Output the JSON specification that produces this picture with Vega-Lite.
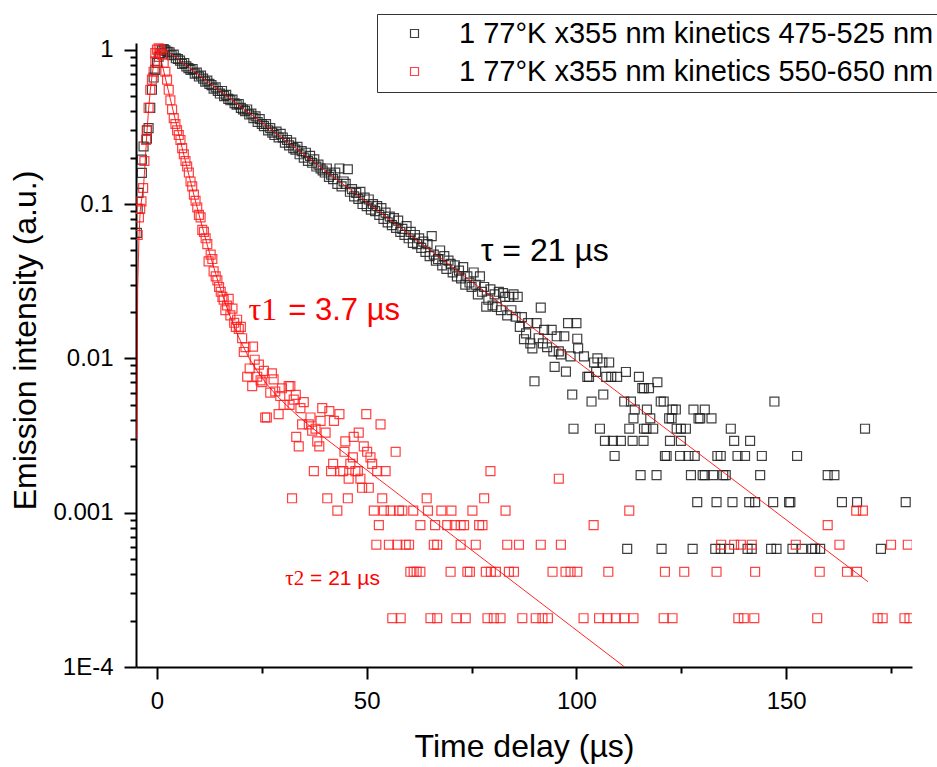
{
"$schema": "https://vega.github.io/schema/vega-lite/v6.json",
"width": 776, "height": 624,
"autosize": {"type": "none"},
"padding": {"left": 136, "top": 43, "right": 25, "bottom": 100},
"background": "white",
"config": {"view": {"stroke": null}, "font": "Liberation Sans", "axis": {"tickWidth": 2, "tickColor": "black"}},
"datasets": {
"pts": [
{"t":-4.8,"y":0.065,"s":"475-525"},{"t":-4.6,"y":0.093,"s":"475-525"},{"t":-4.4,"y":0.118,"s":"475-525"},{"t":-3.6,"y":0.159,"s":"475-525"},{"t":-3.6,"y":0.194,"s":"475-525"},{"t":-3.2,"y":0.236,"s":"475-525"},{"t":-2.4,"y":0.265,"s":"475-525"},{"t":-2.4,"y":0.3,"s":"475-525"},{"t":-2,"y":0.31,"s":"475-525"},{"t":-1.6,"y":0.42,"s":"475-525"},{"t":-1.2,"y":0.55,"s":"475-525"},{"t":-0.8,"y":0.66,"s":"475-525"},{"t":-0.4,"y":0.74,"s":"475-525"},{"t":0,"y":0.82,"s":"475-525"},{"t":0.4,"y":0.9,"s":"475-525"},{"t":0.8,"y":0.95,"s":"475-525"},{"t":1.2,"y":0.99,"s":"475-525"},{"t":1.6,"y":1.01,"s":"475-525"},
{"t":2,"y":0.99,"s":"475-525"},{"t":2.5,"y":0.97,"s":"475-525"},{"t":3,"y":0.96,"s":"475-525"},{"t":3.5,"y":0.92,"s":"475-525"},{"t":4,"y":0.93,"s":"475-525"},{"t":4.5,"y":0.88,"s":"475-525"},{"t":5,"y":0.87,"s":"475-525"},{"t":5.5,"y":0.85,"s":"475-525"},{"t":6,"y":0.81,"s":"475-525"},{"t":6.5,"y":0.82,"s":"475-525"},{"t":7,"y":0.78,"s":"475-525"},{"t":7.5,"y":0.76,"s":"475-525"},{"t":8,"y":0.74,"s":"475-525"},{"t":8.5,"y":0.75,"s":"475-525"},{"t":9,"y":0.7,"s":"475-525"},{"t":9.5,"y":0.71,"s":"475-525"},{"t":10,"y":0.67,"s":"475-525"},{"t":10.5,"y":0.68,"s":"475-525"},{"t":11,"y":0.65,"s":"475-525"},{"t":11.5,"y":0.62,"s":"475-525"},{"t":12,"y":0.63,"s":"475-525"},{"t":12.5,"y":0.6,"s":"475-525"},{"t":13,"y":0.59,"s":"475-525"},{"t":13.5,"y":0.56,"s":"475-525"},{"t":14,"y":0.57,"s":"475-525"},{"t":14.5,"y":0.54,"s":"475-525"},{"t":15,"y":0.52,"s":"475-525"},{"t":15.5,"y":0.54,"s":"475-525"},{"t":16,"y":0.5,"s":"475-525"},{"t":16.5,"y":0.51,"s":"475-525"},{"t":17,"y":0.48,"s":"475-525"},{"t":17.5,"y":0.47,"s":"475-525"},{"t":18,"y":0.475,"s":"475-525"},{"t":18.5,"y":0.45,"s":"475-525"},{"t":19,"y":0.44,"s":"475-525"},{"t":19.5,"y":0.445,"s":"475-525"},{"t":20,"y":0.42,"s":"475-525"},{"t":20.5,"y":0.41,"s":"475-525"},{"t":21,"y":0.4,"s":"475-525"},{"t":21.5,"y":0.41,"s":"475-525"},{"t":22,"y":0.38,"s":"475-525"},{"t":22.5,"y":0.385,"s":"475-525"},{"t":23,"y":0.36,"s":"475-525"},{"t":23.5,"y":0.37,"s":"475-525"},{"t":24,"y":0.34,"s":"475-525"},{"t":24.5,"y":0.355,"s":"475-525"},{"t":25,"y":0.33,"s":"475-525"},{"t":25.5,"y":0.32,"s":"475-525"},{"t":26,"y":0.33,"s":"475-525"},{"t":26.5,"y":0.3,"s":"475-525"},{"t":27,"y":0.31,"s":"475-525"},{"t":27.5,"y":0.29,"s":"475-525"},{"t":28,"y":0.28,"s":"475-525"},{"t":28.5,"y":0.295,"s":"475-525"},{"t":29,"y":0.27,"s":"475-525"},{"t":29.5,"y":0.285,"s":"475-525"},{"t":30,"y":0.27,"s":"475-525"},{"t":30.5,"y":0.25,"s":"475-525"},{"t":31,"y":0.26,"s":"475-525"},{"t":31.5,"y":0.24,"s":"475-525"},{"t":32,"y":0.25,"s":"475-525"},{"t":32.5,"y":0.23,"s":"475-525"},{"t":33,"y":0.225,"s":"475-525"},{"t":33.5,"y":0.235,"s":"475-525"},{"t":34,"y":0.21,"s":"475-525"},{"t":34.5,"y":0.22,"s":"475-525"},{"t":35,"y":0.2,"s":"475-525"},{"t":35.5,"y":0.215,"s":"475-525"},{"t":36,"y":0.19,"s":"475-525"},{"t":36.5,"y":0.205,"s":"475-525"},{"t":37,"y":0.185,"s":"475-525"},{"t":37.5,"y":0.195,"s":"475-525"},{"t":38,"y":0.175,"s":"475-525"},{"t":38.5,"y":0.18,"s":"475-525"},{"t":39,"y":0.17,"s":"475-525"},{"t":39.5,"y":0.165,"s":"475-525"},{"t":40,"y":0.16,"s":"475-525"},{"t":40.5,"y":0.17,"s":"475-525"},{"t":41,"y":0.15,"s":"475-525"},{"t":41.5,"y":0.155,"s":"475-525"},{"t":42,"y":0.145,"s":"475-525"},{"t":42.5,"y":0.16,"s":"475-525"},{"t":43,"y":0.135,"s":"475-525"},{"t":43.5,"y":0.17,"s":"475-525"},{"t":44,"y":0.13,"s":"475-525"},{"t":44.5,"y":0.14,"s":"475-525"},{"t":45,"y":0.135,"s":"475-525"},{"t":45.5,"y":0.168,"s":"475-525"},{"t":46,"y":0.12,"s":"475-525"},{"t":46.5,"y":0.125,"s":"475-525"},{"t":47,"y":0.112,"s":"475-525"},{"t":47.5,"y":0.118,"s":"475-525"},{"t":48,"y":0.108,"s":"475-525"},{"t":48.5,"y":0.12,"s":"475-525"},{"t":49,"y":0.1,"s":"475-525"},{"t":49.5,"y":0.11,"s":"475-525"},{"t":50,"y":0.097,"s":"475-525"},{"t":50.5,"y":0.107,"s":"475-525"},{"t":51,"y":0.092,"s":"475-525"},{"t":51.5,"y":0.1,"s":"475-525"},{"t":52,"y":0.09,"s":"475-525"},{"t":52.5,"y":0.097,"s":"475-525"},{"t":53,"y":0.085,"s":"475-525"},{"t":53.5,"y":0.094,"s":"475-525"},{"t":54,"y":0.08,"s":"475-525"},{"t":54.5,"y":0.088,"s":"475-525"},{"t":55,"y":0.076,"s":"475-525"},{"t":55.5,"y":0.083,"s":"475-525"},{"t":56,"y":0.073,"s":"475-525"},{"t":56.5,"y":0.081,"s":"475-525"},{"t":57,"y":0.07,"s":"475-525"},{"t":57.5,"y":0.078,"s":"475-525"},{"t":58,"y":0.066,"s":"475-525"},{"t":58.5,"y":0.069,"s":"475-525"},{"t":59,"y":0.063,"s":"475-525"},{"t":59.5,"y":0.072,"s":"475-525"},{"t":60,"y":0.06,"s":"475-525"},{"t":60.5,"y":0.066,"s":"475-525"},{"t":61,"y":0.056,"s":"475-525"},{"t":61.5,"y":0.063,"s":"475-525"},{"t":62,"y":0.055,"s":"475-525"},{"t":62.5,"y":0.06,"s":"475-525"},{"t":63,"y":0.052,"s":"475-525"},{"t":63.5,"y":0.057,"s":"475-525"},{"t":64,"y":0.049,"s":"475-525"},{"t":64.5,"y":0.055,"s":"475-525"},{"t":65,"y":0.046,"s":"475-525"},{"t":65.5,"y":0.062,"s":"475-525"},{"t":66,"y":0.047,"s":"475-525"},{"t":66.5,"y":0.043,"s":"475-525"},{"t":67,"y":0.044,"s":"475-525"},{"t":67.5,"y":0.05,"s":"475-525"},{"t":68,"y":0.04,"s":"475-525"},{"t":68.5,"y":0.046,"s":"475-525"},{"t":69,"y":0.038,"s":"475-525"},{"t":69.5,"y":0.043,"s":"475-525"},{"t":70,"y":0.041,"s":"475-525"},{"t":70.5,"y":0.036,"s":"475-525"},{"t":71,"y":0.04,"s":"475-525"},{"t":71.5,"y":0.034,"s":"475-525"},{"t":72,"y":0.037,"s":"475-525"},{"t":72.5,"y":0.033,"s":"475-525"},{"t":73,"y":0.039,"s":"475-525"},{"t":73.5,"y":0.03,"s":"475-525"},{"t":74,"y":0.034,"s":"475-525"},{"t":74.5,"y":0.031,"s":"475-525"},{"t":75,"y":0.029,"s":"475-525"},{"t":75.5,"y":0.036,"s":"475-525"},{"t":76,"y":0.03,"s":"475-525"},{"t":76.5,"y":0.026,"s":"475-525"},{"t":77,"y":0.034,"s":"475-525"},{"t":77.5,"y":0.027,"s":"475-525"},{"t":78,"y":0.029,"s":"475-525"},{"t":78.5,"y":0.0216,"s":"475-525"},{"t":79,"y":0.024,"s":"475-525"},{"t":79.5,"y":0.028,"s":"475-525"},{"t":80,"y":0.022,"s":"475-525"},{"t":80.5,"y":0.026,"s":"475-525"},{"t":81,"y":0.0215,"s":"475-525"},{"t":81.5,"y":0.027,"s":"475-525"},{"t":82,"y":0.0205,"s":"475-525"},{"t":82.5,"y":0.0265,"s":"475-525"},{"t":83,"y":0.025,"s":"475-525"},{"t":83.5,"y":0.019,"s":"475-525"},{"t":84,"y":0.025,"s":"475-525"},{"t":84.5,"y":0.0205,"s":"475-525"},{"t":85,"y":0.026,"s":"475-525"},{"t":85.5,"y":0.0186,"s":"475-525"},{"t":86,"y":0.025,"s":"475-525"},{"t":86.5,"y":0.016,"s":"475-525"},{"t":87,"y":0.0185,"s":"475-525"},{"t":87.5,"y":0.0133,"s":"475-525"},{"t":88,"y":0.0145,"s":"475-525"},{"t":88.5,"y":0.0169,"s":"475-525"},{"t":89,"y":0.0125,"s":"475-525"},{"t":89.5,"y":0.0116,"s":"475-525"},{"t":90,"y":0.0071,"s":"475-525"},{"t":90.5,"y":0.0169,"s":"475-525"},{"t":91,"y":0.0135,"s":"475-525"},{"t":91.5,"y":0.0213,"s":"475-525"},{"t":92,"y":0.0125,"s":"475-525"},{"t":92.3,"y":0.0153,"s":"475-525"},{"t":93,"y":0.0118,"s":"475-525"},{"t":94.1,"y":0.0153,"s":"475-525"},{"t":94.5,"y":0.0111,"s":"475-525"},{"t":94.8,"y":0.0088,"s":"475-525"},{"t":95.3,"y":0.0139,"s":"475-525"},{"t":95.8,"y":0.0111,"s":"475-525"},{"t":96.3,"y":0.0106,"s":"475-525"},{"t":97.1,"y":0.0139,"s":"475-525"},{"t":97.5,"y":0.0082,"s":"475-525"},{"t":98,"y":0.0169,"s":"475-525"},{"t":98.6,"y":0.0103,"s":"475-525"},{"t":99,"y":0.00583,"s":"475-525"},{"t":99.3,"y":0.0035,"s":"475-525"},{"t":100,"y":0.0169,"s":"475-525"},{"t":100.2,"y":0.0134,"s":"475-525"},{"t":100.4,"y":0.0116,"s":"475-525"},{"t":101.8,"y":0.0103,"s":"475-525"},{"t":102.6,"y":0.00758,"s":"475-525"},{"t":103,"y":0.00758,"s":"475-525"},{"t":103.6,"y":0.00525,"s":"475-525"},{"t":104.2,"y":0.0094,"s":"475-525"},{"t":104.7,"y":0.00816,"s":"475-525"},{"t":105,"y":0.01,"s":"475-525"},{"t":105.6,"y":0.0035,"s":"475-525"},{"t":106.2,"y":0.0094,"s":"475-525"},{"t":106.4,"y":0.00583,"s":"475-525"},{"t":106.8,"y":0.00292,"s":"475-525"},{"t":107.1,"y":0.00758,"s":"475-525"},{"t":107.8,"y":0.0094,"s":"475-525"},{"t":108.3,"y":0.00758,"s":"475-525"},{"t":108.7,"y":0.00292,"s":"475-525"},{"t":109.1,"y":0.00233,"s":"475-525"},{"t":109.7,"y":0.00758,"s":"475-525"},{"t":110.6,"y":0.00292,"s":"475-525"},{"t":111.4,"y":0.00525,"s":"475-525"},{"t":111.8,"y":0.00816,"s":"475-525"},{"t":112.1,"y":0.000583,"s":"475-525"},{"t":112.6,"y":0.0035,"s":"475-525"},{"t":113,"y":0.00525,"s":"475-525"},{"t":113.4,"y":0.00292,"s":"475-525"},{"t":113.6,"y":0.00408,"s":"475-525"},{"t":113.9,"y":0.00466,"s":"475-525"},{"t":114.9,"y":0.00758,"s":"475-525"},{"t":115.3,"y":0.00175,"s":"475-525"},{"t":115.7,"y":0.00641,"s":"475-525"},{"t":116,"y":0.00292,"s":"475-525"},{"t":116.1,"y":0.00641,"s":"475-525"},{"t":116.1,"y":0.0035,"s":"475-525"},{"t":116.7,"y":0.0035,"s":"475-525"},{"t":116.8,"y":0.00466,"s":"475-525"},{"t":117.3,"y":0.00641,"s":"475-525"},{"t":117.6,"y":0.00408,"s":"475-525"},{"t":118.3,"y":0.0035,"s":"475-525"},{"t":119.1,"y":0.00175,"s":"475-525"},{"t":119.3,"y":0.007,"s":"475-525"},{"t":120.1,"y":0.00525,"s":"475-525"},{"t":120.3,"y":0.000583,"s":"475-525"},{"t":120.8,"y":0.00525,"s":"475-525"},{"t":121.1,"y":0.00233,"s":"475-525"},{"t":121.5,"y":0.00233,"s":"475-525"},{"t":122.1,"y":0.00408,"s":"475-525"},{"t":122.3,"y":0.00292,"s":"475-525"},{"t":122.7,"y":0.00408,"s":"475-525"},{"t":122.9,"y":0.00466,"s":"475-525"},{"t":123.7,"y":0.00466,"s":"475-525"},{"t":123.9,"y":0.0035,"s":"475-525"},{"t":124.7,"y":0.00233,"s":"475-525"},{"t":124.9,"y":0.0035,"s":"475-525"},{"t":124.9,"y":0.00292,"s":"475-525"},{"t":126.1,"y":0.0035,"s":"475-525"},{"t":126.7,"y":0.00233,"s":"475-525"},{"t":127.3,"y":0.00175,"s":"475-525"},{"t":127.7,"y":0.000583,"s":"475-525"},{"t":127.9,"y":0.00466,"s":"475-525"},{"t":128.2,"y":0.00233,"s":"475-525"},{"t":128.8,"y":0.00117,"s":"475-525"},{"t":129.1,"y":0.00408,"s":"475-525"},{"t":129.5,"y":0.00408,"s":"475-525"},{"t":130.1,"y":0.00175,"s":"475-525"},{"t":130.6,"y":0.00466,"s":"475-525"},{"t":130.6,"y":0.00175,"s":"475-525"},{"t":132.2,"y":0.00408,"s":"475-525"},{"t":132.6,"y":0.00175,"s":"475-525"},{"t":133.1,"y":0.000583,"s":"475-525"},{"t":133.4,"y":0.00117,"s":"475-525"},{"t":133.6,"y":0.00233,"s":"475-525"},{"t":134.4,"y":0.00233,"s":"475-525"},{"t":134.4,"y":0.000583,"s":"475-525"},{"t":135,"y":0.00175,"s":"475-525"},{"t":135.6,"y":0.00175,"s":"475-525"},{"t":136.4,"y":0.000583,"s":"475-525"},{"t":136.8,"y":0.0035,"s":"475-525"},{"t":137.2,"y":0.00117,"s":"475-525"},{"t":137.6,"y":0.00292,"s":"475-525"},{"t":138.4,"y":0.00233,"s":"475-525"},{"t":140.2,"y":0.00233,"s":"475-525"},{"t":140.8,"y":0.000583,"s":"475-525"},{"t":141.2,"y":0.00117,"s":"475-525"},{"t":141.4,"y":0.00292,"s":"475-525"},{"t":141.8,"y":0.000583,"s":"475-525"},{"t":142.6,"y":0.00117,"s":"475-525"},{"t":143.8,"y":0.00175,"s":"475-525"},{"t":144.2,"y":0.00233,"s":"475-525"},{"t":146.4,"y":0.000583,"s":"475-525"},{"t":146.9,"y":0.00117,"s":"475-525"},{"t":147.2,"y":0.00525,"s":"475-525"},{"t":147.7,"y":0.000583,"s":"475-525"},{"t":150.7,"y":0.00117,"s":"475-525"},{"t":151,"y":0.00117,"s":"475-525"},{"t":151.5,"y":0.000583,"s":"475-525"},{"t":152.6,"y":0.00233,"s":"475-525"},{"t":153.8,"y":0.000583,"s":"475-525"},{"t":156.2,"y":0.000583,"s":"475-525"},{"t":156.9,"y":0.000583,"s":"475-525"},{"t":158.1,"y":0.000583,"s":"475-525"},{"t":159.9,"y":0.00175,"s":"475-525"},{"t":161.5,"y":0.00175,"s":"475-525"},{"t":163.3,"y":0.00117,"s":"475-525"},{"t":166.9,"y":0.00117,"s":"475-525"},{"t":168.8,"y":0.0035,"s":"475-525"},{"t":172.6,"y":0.000583,"s":"475-525"},{"t":178.5,"y":0.00117,"s":"475-525"},
{"t":-4.6,"y":0.063,"s":"550-650"},{"t":-4.3,"y":0.082,"s":"550-650"},{"t":-4,"y":0.093,"s":"550-650"},{"t":-3.7,"y":0.104,"s":"550-650"},{"t":-3.3,"y":0.127,"s":"550-650"},{"t":-3,"y":0.19,"s":"550-650"},{"t":-2.6,"y":0.26,"s":"550-650"},{"t":-2.4,"y":0.3,"s":"550-650"},{"t":-2,"y":0.42,"s":"550-650"},{"t":-1.6,"y":0.55,"s":"550-650"},{"t":-1.2,"y":0.64,"s":"550-650"},{"t":-0.8,"y":0.72,"s":"550-650"},{"t":-0.4,"y":0.84,"s":"550-650"},{"t":-0.4,"y":0.95,"s":"550-650"},{"t":0,"y":1.0,"s":"550-650"},{"t":0.4,"y":1.02,"s":"550-650"},{"t":0.8,"y":1.0,"s":"550-650"},{"t":1.2,"y":0.93,"s":"550-650"},{"t":1.6,"y":0.82,"s":"550-650"},{"t":2,"y":0.72,"s":"550-650"},{"t":2.4,"y":0.64,"s":"550-650"},{"t":2.8,"y":0.55,"s":"550-650"},{"t":3.2,"y":0.47,"s":"550-650"},{"t":3.6,"y":0.41,"s":"550-650"},{"t":4,"y":0.36,"s":"550-650"},{"t":4.4,"y":0.33,"s":"550-650"},{"t":4.8,"y":0.3,"s":"550-650"},{"t":5.2,"y":0.28,"s":"550-650"},{"t":5.6,"y":0.26,"s":"550-650"},{"t":6,"y":0.23,"s":"550-650"},{"t":6.4,"y":0.21,"s":"550-650"},{"t":6.8,"y":0.19,"s":"550-650"},{"t":7.2,"y":0.175,"s":"550-650"},{"t":7.6,"y":0.16,"s":"550-650"},{"t":8,"y":0.14,"s":"550-650"},{"t":8.4,"y":0.13,"s":"550-650"},{"t":8.8,"y":0.115,"s":"550-650"},{"t":9.2,"y":0.105,"s":"550-650"},{"t":9.6,"y":0.095,"s":"550-650"},{"t":10,"y":0.085,"s":"550-650"},{"t":10.4,"y":0.082,"s":"550-650"},{"t":10.8,"y":0.068,"s":"550-650"},{"t":11.2,"y":0.066,"s":"550-650"},{"t":11.6,"y":0.06,"s":"550-650"},{"t":12,"y":0.055,"s":"550-650"},{"t":12.3,"y":0.0425,"s":"550-650"},{"t":12.8,"y":0.047,"s":"550-650"},{"t":13.2,"y":0.044,"s":"550-650"},{"t":13.5,"y":0.0366,"s":"550-650"},{"t":14,"y":0.034,"s":"550-650"},{"t":14.4,"y":0.032,"s":"550-650"},{"t":14.8,"y":0.029,"s":"550-650"},{"t":15.2,"y":0.027,"s":"550-650"},{"t":15.6,"y":0.025,"s":"550-650"},{"t":15.9,"y":0.024,"s":"550-650"},{"t":16.3,"y":0.0205,"s":"550-650"},{"t":16.7,"y":0.022,"s":"550-650"},{"t":17.1,"y":0.0243,"s":"550-650"},{"t":17.5,"y":0.019,"s":"550-650"},{"t":18,"y":0.021,"s":"550-650"},{"t":18.4,"y":0.017,"s":"550-650"},{"t":18.8,"y":0.016,"s":"550-650"},{"t":19.1,"y":0.0178,"s":"550-650"},{"t":19.5,"y":0.0155,"s":"550-650"},{"t":20,"y":0.016,"s":"550-650"},{"t":20.3,"y":0.0135,"s":"550-650"},{"t":20.7,"y":0.011,"s":"550-650"},{"t":21.1,"y":0.0118,"s":"550-650"},{"t":21.5,"y":0.0076,"s":"550-650"},{"t":22.1,"y":0.0086,"s":"550-650"},{"t":22.7,"y":0.0066,"s":"550-650"},{"t":22.9,"y":0.0119,"s":"550-650"},{"t":23.3,"y":0.0098,"s":"550-650"},{"t":23.9,"y":0.0076,"s":"550-650"},{"t":24.3,"y":0.0091,"s":"550-650"},{"t":24.7,"y":0.0072,"s":"550-650"},{"t":25.1,"y":0.007,"s":"550-650"},{"t":25.5,"y":0.0083,"s":"550-650"},{"t":25.8,"y":0.00414,"s":"550-650"},{"t":26.2,"y":0.00414,"s":"550-650"},{"t":27,"y":0.006,"s":"550-650"},{"t":27.4,"y":0.008,"s":"550-650"},{"t":27.8,"y":0.0073,"s":"550-650"},{"t":28.2,"y":0.0061,"s":"550-650"},{"t":29,"y":0.00435,"s":"550-650"},{"t":29.4,"y":0.0057,"s":"550-650"},{"t":29.8,"y":0.0064,"s":"550-650"},{"t":30.2,"y":0.005,"s":"550-650"},{"t":31.4,"y":0.0066,"s":"550-650"},{"t":31.6,"y":0.005,"s":"550-650"},{"t":31.8,"y":0.0066,"s":"550-650"},{"t":32.2,"y":0.00124,"s":"550-650"},{"t":32.6,"y":0.0054,"s":"550-650"},{"t":33.1,"y":0.0058,"s":"550-650"},{"t":33.2,"y":0.0031,"s":"550-650"},{"t":33.8,"y":0.00269,"s":"550-650"},{"t":34.2,"y":0.00476,"s":"550-650"},{"t":34.6,"y":0.00373,"s":"550-650"},{"t":35,"y":0.0052,"s":"550-650"},{"t":36.2,"y":0.00373,"s":"550-650"},{"t":36.6,"y":0.00414,"s":"550-650"},{"t":37,"y":0.0034,"s":"550-650"},{"t":37.4,"y":0.00186,"s":"550-650"},{"t":37.8,"y":0.0035,"s":"550-650"},{"t":38.2,"y":0.0029,"s":"550-650"},{"t":38.7,"y":0.00269,"s":"550-650"},{"t":39,"y":0.00393,"s":"550-650"},{"t":39.4,"y":0.00476,"s":"550-650"},{"t":40.2,"y":0.0033,"s":"550-650"},{"t":40.6,"y":0.00124,"s":"550-650"},{"t":41.1,"y":0.00455,"s":"550-650"},{"t":41.5,"y":0.00186,"s":"550-650"},{"t":42,"y":0.00207,"s":"550-650"},{"t":42.2,"y":0.00393,"s":"550-650"},{"t":43,"y":0.00103,"s":"550-650"},{"t":43.5,"y":0.00435,"s":"550-650"},{"t":43.7,"y":0.00186,"s":"550-650"},{"t":44.4,"y":0.00186,"s":"550-650"},{"t":44.7,"y":0.00248,"s":"550-650"},{"t":44.9,"y":0.0029,"s":"550-650"},{"t":45.5,"y":0.00124,"s":"550-650"},{"t":45.7,"y":0.00166,"s":"550-650"},{"t":46.1,"y":0.00207,"s":"550-650"},{"t":46.7,"y":0.00228,"s":"550-650"},{"t":46.9,"y":0.0031,"s":"550-650"},{"t":47.3,"y":0.00186,"s":"550-650"},{"t":47.9,"y":0.00186,"s":"550-650"},{"t":48.1,"y":0.0033,"s":"550-650"},{"t":48.5,"y":0.00166,"s":"550-650"},{"t":48.9,"y":0.00145,"s":"550-650"},{"t":49.3,"y":0.00269,"s":"550-650"},{"t":49.9,"y":0.00435,"s":"550-650"},{"t":50.1,"y":0.00248,"s":"550-650"},{"t":50.5,"y":0.00145,"s":"550-650"},{"t":50.9,"y":0.00228,"s":"550-650"},{"t":51.3,"y":0.00207,"s":"550-650"},{"t":51.7,"y":0.00103,"s":"550-650"},{"t":52.3,"y":0.00062,"s":"550-650"},{"t":52.5,"y":0.00186,"s":"550-650"},{"t":52.9,"y":0.00083,"s":"550-650"},{"t":53.3,"y":0.00373,"s":"550-650"},{"t":53.7,"y":0.00124,"s":"550-650"},{"t":54.1,"y":0.00103,"s":"550-650"},{"t":54.5,"y":0.00186,"s":"550-650"},{"t":55.3,"y":0.00062,"s":"550-650"},{"t":55.7,"y":0.00103,"s":"550-650"},{"t":56.1,"y":0.000207,"s":"550-650"},{"t":56.9,"y":0.00248,"s":"550-650"},{"t":57.3,"y":0.00062,"s":"550-650"},{"t":57.7,"y":0.00103,"s":"550-650"},{"t":58.1,"y":0.000207,"s":"550-650"},{"t":58.5,"y":0.00103,"s":"550-650"},{"t":59.3,"y":0.00062,"s":"550-650"},{"t":60.1,"y":0.00062,"s":"550-650"},{"t":60.4,"y":0.000414,"s":"550-650"},{"t":61.1,"y":0.00103,"s":"550-650"},{"t":61.2,"y":0.000414,"s":"550-650"},{"t":61.9,"y":0.000414,"s":"550-650"},{"t":62.8,"y":0.00083,"s":"550-650"},{"t":62.8,"y":0.000414,"s":"550-650"},{"t":64.3,"y":0.00124,"s":"550-650"},{"t":64.6,"y":0.00103,"s":"550-650"},{"t":65.2,"y":0.000207,"s":"550-650"},{"t":66,"y":0.00062,"s":"550-650"},{"t":66.3,"y":0.00083,"s":"550-650"},{"t":66.8,"y":0.00062,"s":"550-650"},{"t":66.8,"y":0.000207,"s":"550-650"},{"t":67.8,"y":0.00103,"s":"550-650"},{"t":69.2,"y":0.00083,"s":"550-650"},{"t":70,"y":0.000414,"s":"550-650"},{"t":70.2,"y":0.00103,"s":"550-650"},{"t":71,"y":0.00083,"s":"550-650"},{"t":71.4,"y":0.000207,"s":"550-650"},{"t":72.4,"y":0.00083,"s":"550-650"},{"t":72.4,"y":0.00062,"s":"550-650"},{"t":73.2,"y":0.00083,"s":"550-650"},{"t":73.6,"y":0.000207,"s":"550-650"},{"t":74,"y":0.000414,"s":"550-650"},{"t":74.6,"y":0.000414,"s":"550-650"},{"t":75.2,"y":0.00103,"s":"550-650"},{"t":76,"y":0.00062,"s":"550-650"},{"t":76.8,"y":0.00083,"s":"550-650"},{"t":77.6,"y":0.00083,"s":"550-650"},{"t":78,"y":0.00124,"s":"550-650"},{"t":78.4,"y":0.000414,"s":"550-650"},{"t":78.8,"y":0.000207,"s":"550-650"},{"t":79.5,"y":0.00186,"s":"550-650"},{"t":79.6,"y":0.000414,"s":"550-650"},{"t":80.3,"y":0.000207,"s":"550-650"},{"t":80.8,"y":0.000414,"s":"550-650"},{"t":81.9,"y":0.000207,"s":"550-650"},{"t":83.1,"y":0.00103,"s":"550-650"},{"t":83.5,"y":0.00062,"s":"550-650"},{"t":83.9,"y":0.000414,"s":"550-650"},{"t":85.1,"y":0.000414,"s":"550-650"},{"t":86.3,"y":0.00062,"s":"550-650"},{"t":87.1,"y":0.000207,"s":"550-650"},{"t":90.3,"y":0.000207,"s":"550-650"},{"t":91.5,"y":0.00062,"s":"550-650"},{"t":91.9,"y":0.000207,"s":"550-650"},{"t":93.2,"y":0.000207,"s":"550-650"},{"t":94.3,"y":0.000414,"s":"550-650"},{"t":95.8,"y":0.00166,"s":"550-650"},{"t":96.3,"y":0.00062,"s":"550-650"},{"t":97.4,"y":0.000414,"s":"550-650"},{"t":98.6,"y":0.000414,"s":"550-650"},{"t":100.2,"y":0.000414,"s":"550-650"},{"t":101.7,"y":0.000207,"s":"550-650"},{"t":104.1,"y":0.00083,"s":"550-650"},{"t":105.4,"y":0.000207,"s":"550-650"},{"t":107.4,"y":0.000207,"s":"550-650"},{"t":107.6,"y":0.000414,"s":"550-650"},{"t":109.4,"y":0.000207,"s":"550-650"},{"t":111.4,"y":0.000207,"s":"550-650"},{"t":112.6,"y":0.00103,"s":"550-650"},{"t":113.6,"y":0.000207,"s":"550-650"},{"t":120.8,"y":0.000207,"s":"550-650"},{"t":121.1,"y":0.000414,"s":"550-650"},{"t":122.9,"y":0.000207,"s":"550-650"},{"t":125.7,"y":0.000414,"s":"550-650"},{"t":133.4,"y":0.000414,"s":"550-650"},{"t":134.5,"y":0.00062,"s":"550-650"},{"t":137.6,"y":0.00062,"s":"550-650"},{"t":138.6,"y":0.000207,"s":"550-650"},{"t":139.2,"y":0.00062,"s":"550-650"},{"t":139.9,"y":0.000207,"s":"550-650"},{"t":141.8,"y":0.00062,"s":"550-650"},{"t":142.4,"y":0.000207,"s":"550-650"},{"t":142.6,"y":0.000414,"s":"550-650"},{"t":152.3,"y":0.00062,"s":"550-650"},{"t":157.4,"y":0.000207,"s":"550-650"},{"t":158,"y":0.000414,"s":"550-650"},{"t":159.9,"y":0.00083,"s":"550-650"},{"t":162.7,"y":0.00062,"s":"550-650"},{"t":164.5,"y":0.000414,"s":"550-650"},{"t":166.7,"y":0.00103,"s":"550-650"},{"t":166.9,"y":0.000414,"s":"550-650"},{"t":168.3,"y":0.00103,"s":"550-650"},{"t":171.8,"y":0.000207,"s":"550-650"},{"t":173,"y":0.000207,"s":"550-650"},{"t":175,"y":0.00062,"s":"550-650"},{"t":178.2,"y":0.000207,"s":"550-650"},{"t":179,"y":0.00062,"s":"550-650"},{"t":179.4,"y":0.000207,"s":"550-650"}
],
"fits": [
{"t":1.2,"y":1.04,"f":"475-525"},{"t":169.5,"y":0.000357,"f":"475-525"},
{"t":-4.85,"y":0.003,"f":"550-650"},{"t":-4.75,"y":0.006,"f":"550-650"},{"t":-4.6,"y":0.028,"f":"550-650"},{"t":-4.3,"y":0.06,"f":"550-650"},{"t":-4,"y":0.09,"f":"550-650"},{"t":-3.6,"y":0.11,"f":"550-650"},{"t":-3.2,"y":0.13,"f":"550-650"},{"t":-2.8,"y":0.19,"f":"550-650"},{"t":-2.4,"y":0.29,"f":"550-650"},{"t":-2,"y":0.41,"f":"550-650"},{"t":-1.6,"y":0.54,"f":"550-650"},{"t":-1.2,"y":0.67,"f":"550-650"},{"t":-0.8,"y":0.8,"f":"550-650"},{"t":-0.4,"y":0.92,"f":"550-650"},{"t":0,"y":0.98,"f":"550-650"},{"t":0.4,"y":1.0,"f":"550-650"},{"t":1,"y":0.853,"f":"550-650"},{"t":2,"y":0.655,"f":"550-650"},{"t":3,"y":0.503,"f":"550-650"},{"t":4,"y":0.387,"f":"550-650"},{"t":5,"y":0.299,"f":"550-650"},{"t":6,"y":0.231,"f":"550-650"},{"t":7,"y":0.179,"f":"550-650"},{"t":8,"y":0.14,"f":"550-650"},{"t":9,"y":0.109,"f":"550-650"},{"t":10,"y":0.0859,"f":"550-650"},{"t":11,"y":0.0679,"f":"550-650"},{"t":12,"y":0.0542,"f":"550-650"},{"t":13,"y":0.0435,"f":"550-650"},{"t":14,"y":0.0353,"f":"550-650"},{"t":15,"y":0.0289,"f":"550-650"},{"t":16,"y":0.0241,"f":"550-650"},{"t":17,"y":0.0201,"f":"550-650"},{"t":18,"y":0.0171,"f":"550-650"},{"t":19,"y":0.0147,"f":"550-650"},{"t":20,"y":0.0128,"f":"550-650"},{"t":22,"y":0.01,"f":"550-650"},{"t":24,"y":0.0082,"f":"550-650"},{"t":26,"y":0.0069,"f":"550-650"},{"t":28,"y":0.00596,"f":"550-650"},{"t":30,"y":0.00524,"f":"550-650"},{"t":33,"y":0.00438,"f":"550-650"},{"t":36,"y":0.00373,"f":"550-650"},{"t":40,"y":0.00305,"f":"550-650"},{"t":111.5,"y":0.0001,"f":"550-650"}
]
},
"data": {"name": "pts"},
"layer": [
{
"mark": {"type": "point", "shape": "square", "filled": false, "size": 80, "strokeWidth": 1.2, "opacity": 0.85, "clip": true},
"encoding": {
"x": {"field": "t", "type": "quantitative", "scale": {"domain": [-5, 180], "nice": false, "zero": false},
"axis": {"orient": "bottom", "values": [0, 25, 50, 75, 100, 125, 150, 175], "labelExpr": "datum.value % 50 == 0 ? datum.label : ''", "tickSize": {"condition": {"test": "datum.value % 50 == 0", "value": 12}, "value": 6}, "domainWidth": 2, "domainColor": "black", "labelFontSize": 24, "labelColor": "black", "labelPadding": 10, "labelFont": "Liberation Sans", "labelOverlap": false, "title": "Time delay (µs)", "titleFont": "Liberation Sans", "titleFontSize": 32, "titleFontWeight": "normal", "titleColor": "black", "titleX": 388, "titleY": 89, "titleBaseline": "alphabetic", "titleAlign": "center", "grid": false}},
"y": {"field": "y", "type": "quantitative", "scale": {"type": "log", "domain": [0.0001, 1.105], "nice": false},
"axis": {"orient": "left", "values": [0.0001,0.0002,0.0003,0.0004,0.0005,0.0006,0.0007,0.0008,0.0009,0.001,0.002,0.003,0.004,0.005,0.006,0.007,0.008,0.009,0.01,0.02,0.03,0.04,0.05,0.06,0.07,0.08,0.09,0.1,0.2,0.3,0.4,0.5,0.6,0.7,0.8,0.9,1], "labelExpr": "datum.value == 0.0001 ? '1E-4' : (datum.value == 0.001 || datum.value == 0.01 || datum.value == 0.1 || datum.value == 1) ? toString(datum.value) : ''", "tickSize": {"condition": {"test": "datum.value == 0.0001 || datum.value == 0.001 || datum.value == 0.01 || datum.value == 0.1 || datum.value == 1", "value": 12}, "value": 6}, "domainWidth": 2, "domainColor": "black", "labelFontSize": 24, "labelColor": "black", "labelPadding": 11, "labelFont": "Liberation Sans", "labelOverlap": false, "title": "Emission intensity (a.u.)", "titleFont": "Liberation Sans", "titleFontSize": 32, "titleFontWeight": "normal", "titleColor": "black", "titleX": -101, "titleY": 297, "titleAngle": -90, "titleBaseline": "alphabetic", "titleAlign": "center", "grid": false}},
"color": {"field": "s", "type": "nominal", "scale": {"domain": ["475-525", "550-650"], "range": ["#1f1f1f", "#ff2020"]},
"legend": {"orient": "none", "legendX": 241, "legendY": -29, "title": null, "strokeColor": "#333333", "fillColor": "white", "padding": 5, "symbolType": "square", "symbolSize": 64, "symbolStrokeWidth": 1.2, "symbolOffset": 18, "labelOffset": 30, "labelFontSize": 29, "labelFont": "Liberation Sans", "labelColor": "black", "labelLimit": 700, "rowPadding": 8, "labelExpr": "'1 77°K x355 nm kinetics ' + datum.label + ' nm'"}}
}
},
{
"data": {"name": "fits"},
"mark": {"type": "line", "color": "#ff0000", "strokeWidth": 1, "opacity": 0.85, "clip": true},
"encoding": {
"x": {"field": "t", "type": "quantitative", "scale": {"domain": [-5, 180], "nice": false, "zero": false}},
"y": {"field": "y", "type": "quantitative", "scale": {"type": "log", "domain": [0.0001, 1.105], "nice": false}},
"detail": {"field": "f", "type": "nominal"}
}
},
{
"data": {"values": [{"t": 77.2, "y": 0.0425, "label": "τ = 21 µs"}]},
"mark": {"type": "text", "align": "left", "baseline": "alphabetic", "font": "Liberation Sans", "fontSize": 32, "color": "black"},
"encoding": {
"x": {"field": "t", "type": "quantitative", "scale": {"domain": [-5, 180], "nice": false, "zero": false}},
"y": {"field": "y", "type": "quantitative", "scale": {"type": "log", "domain": [0.0001, 1.105], "nice": false}},
"text": {"field": "label"}
}
},
{
"data": {"values": [{"t": 21.8, "y": 0.0178, "label": "τ1"}]},
"mark": {"type": "text", "align": "left", "baseline": "alphabetic", "font": "Liberation Serif", "fontSize": 32, "color": "#ff0000"},
"encoding": {
"x": {"field": "t", "type": "quantitative", "scale": {"domain": [-5, 180], "nice": false, "zero": false}},
"y": {"field": "y", "type": "quantitative", "scale": {"type": "log", "domain": [0.0001, 1.105], "nice": false}},
"text": {"field": "label"}
}
},
{
"data": {"values": [{"t": 31.3, "y": 0.0178, "label": "= 3.7 µs"}]},
"mark": {"type": "text", "align": "left", "baseline": "alphabetic", "font": "Liberation Sans", "fontSize": 31, "color": "#ff0000"},
"encoding": {
"x": {"field": "t", "type": "quantitative", "scale": {"domain": [-5, 180], "nice": false, "zero": false}},
"y": {"field": "y", "type": "quantitative", "scale": {"type": "log", "domain": [0.0001, 1.105], "nice": false}},
"text": {"field": "label"}
}
},
{
"data": {"values": [{"t": 30.6, "y": 0.000341, "label": "τ2"}]},
"mark": {"type": "text", "align": "left", "baseline": "alphabetic", "font": "Liberation Serif", "fontSize": 21, "color": "#ff0000"},
"encoding": {
"x": {"field": "t", "type": "quantitative", "scale": {"domain": [-5, 180], "nice": false, "zero": false}},
"y": {"field": "y", "type": "quantitative", "scale": {"type": "log", "domain": [0.0001, 1.105], "nice": false}},
"text": {"field": "label"}
}
},
{
"data": {"values": [{"t": 36.5, "y": 0.000341, "label": "= 21 µs"}]},
"mark": {"type": "text", "align": "left", "baseline": "alphabetic", "font": "Liberation Sans", "fontSize": 21, "color": "#ff0000"},
"encoding": {
"x": {"field": "t", "type": "quantitative", "scale": {"domain": [-5, 180], "nice": false, "zero": false}},
"y": {"field": "y", "type": "quantitative", "scale": {"type": "log", "domain": [0.0001, 1.105], "nice": false}},
"text": {"field": "label"}
}
}
]
}
